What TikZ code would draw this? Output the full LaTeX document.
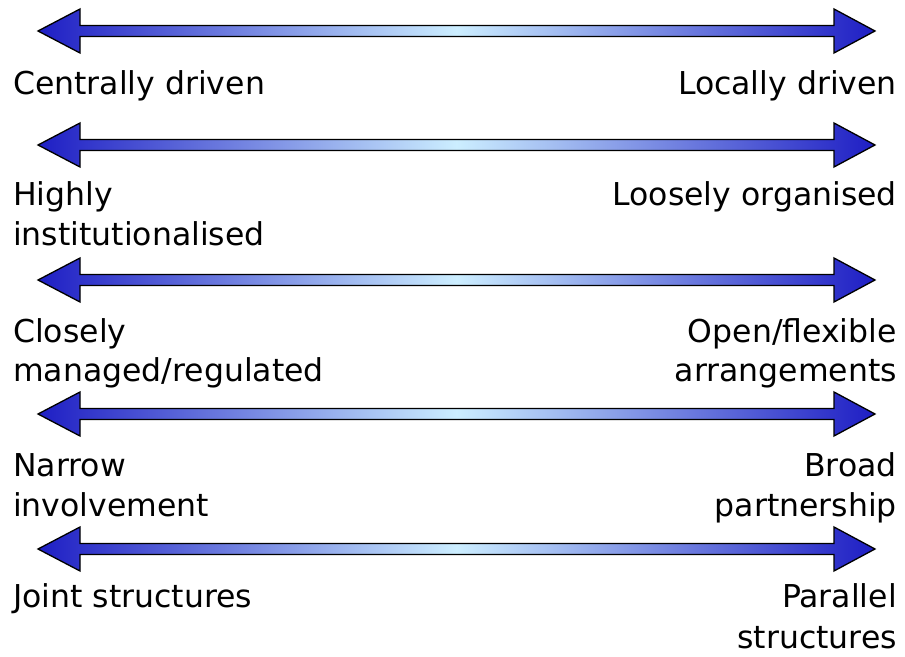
\documentclass[tikz,border=0pt]{standalone}
\usepackage{fontspec}
\setmainfont{DejaVu Sans}
\definecolor{arrowdark}{HTML}{1E1EC4}
\definecolor{arrowlight}{HTML}{CCEEFF}
\tikzset{
  x=1pt, y=1pt,
  scalearrow/.style={draw=black, line width=1.3pt, line join=miter,
    left color=arrowdark, right color=arrowdark, middle color=arrowlight},
  lbl/.style={inner sep=0pt, font=\fontsize{31.5}{40}\selectfont},
  lefttext/.style={lbl, anchor=base west},
  righttext/.style={lbl, anchor=base east},
}
% double-headed block arrow between two named coordinates at height #1
\newcommand\drawscale[2]{%
  \coordinate (#2-l) at (38,#1);
  \coordinate (#2-r) at (875,#1);
  \path[scalearrow] (#2-l) -- ++(42,22) -- ++(0,-16.5) -- ($(#2-r)+(-41,5.5)$)
    -- ++(0,16.5) -- (#2-r) -- ++(-41,-22) -- ++(0,16.5) -- ($(#2-l)+(42,-5.5)$)
    -- ++(0,-16.5) -- cycle;
}
\usetikzlibrary{calc}
\begin{document}
\begin{tikzpicture}
\useasboundingbox (0,0) rectangle (905,656);

\drawscale{625}{s1}
\drawscale{511}{s2}
\drawscale{376}{s3}
\drawscale{242}{s4}
\drawscale{107}{s5}

\node[lefttext] (c1) at (13,561) {Centrally driven};
\node[righttext] (d1) at (897,561) {Locally driven};

\node[lefttext] (c2a) at (13,450) {Highly};
\node[lefttext] (c2b) at (13,410) {institutionalised};
\node[righttext] (d2) at (897,450) {Loosely organised};

\node[lefttext] (c3a) at (13,313) {Closely};
\node[lefttext] (c3b) at (13,274) {managed/regulated};
\node[righttext] (d3a) at (897,313) {Open/flexible};
\node[righttext] (d3b) at (897,274) {arrangements};

\node[lefttext] (c4a) at (13,179) {Narrow};
\node[lefttext] (c4b) at (13,139) {involvement};
\node[righttext] (d4a) at (897,179) {Broad};
\node[righttext] (d4b) at (897,139) {partnership};

\node[lefttext] (c5) at (13,48) {Joint structures};
\node[righttext] (d5a) at (897,48) {Parallel};
\node[righttext] (d5b) at (897,8) {structures};
\end{tikzpicture}
\end{document}
